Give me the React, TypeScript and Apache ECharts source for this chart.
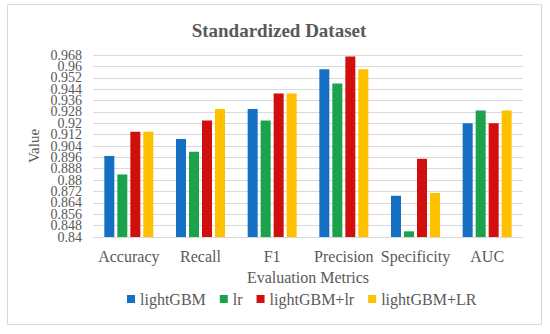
import React, { useEffect, useRef } from "react";
import * as echarts from "echarts";

const categories = ["Accuracy", "Recall", "F1", "Precision", "Specificity", "AUC"];
const seriesNames = ["lightGBM", "lr", "lightGBM+lr", "lightGBM+LR"];
const lightGBM = [0.897, 0.909, 0.930, 0.958, 0.869, 0.920];
const lr = [0.884, 0.900, 0.922, 0.948, 0.844, 0.929];
const lightGBMlr = [0.914, 0.922, 0.941, 0.967, 0.895, 0.920];
const lightGBMLR = [0.914, 0.930, 0.941, 0.958, 0.871, 0.929];
const colors = ["#1570c4", "#1ca24c", "#d20f0f", "#ffc000"];

const Y_MIN = 0.84;
const Y_MAX = 0.968;
const Y_STEP = 0.008;

const FONT = "Liberation Serif";

export default function App() {
  const ref = useRef<HTMLDivElement>(null);
  useEffect(() => {
    const chart = echarts.init(ref.current!, null, { renderer: "svg" });
    const data = [lightGBM, lr, lightGBMlr, lightGBMLR];
    const gTop = 55;
    const gBottom = 97;
    const plotH = 334 - gTop - gBottom;
    const pxPerStep = (plotH * Y_STEP) / (Y_MAX - Y_MIN);
    const fmt = (v: number) => String(parseFloat(v.toFixed(3)));
    const labelStyle = { fontFamily: FONT, fontSize: 14, color: "#595959", margin: 11 };
    const hiddenX = { type: "value", show: false, min: 0, max: 1 };
    chart.setOption({
      animation: false,
      backgroundColor: "#ffffff",
      textStyle: { fontFamily: FONT },
      title: {
        text: "Standardized Dataset",
        left: 274,
        textAlign: "center",
        top: 16,
        textStyle: { fontFamily: FONT, fontSize: 19, fontWeight: "bold", color: "#595959" },
      },
      graphic: [
        {
          type: "rect",
          shape: { x: 7.5, y: 4.5, width: 534, height: 320 },
          style: { fill: "none", stroke: "#d9d9d9", lineWidth: 1 },
          silent: true,
        },
      ],
      legend: {
        bottom: 22,
        left: 122,
        itemWidth: 8,
        itemHeight: 8,
        itemGap: 14,
        icon: "rect",
        formatter: (name: string) => "{a|" + name + "}",
        textStyle: {
          fontFamily: FONT,
          fontSize: 16,
          color: "#595959",
          rich: { a: { fontFamily: FONT, fontSize: 16, color: "#595959" } },
        },
        data: seriesNames,
      },
      grid: [
        { left: 93, right: 27, top: gTop, bottom: gBottom },
        { left: 93, right: 27, top: gTop, bottom: gBottom },
        { left: 93, right: 27, top: gTop - pxPerStep, bottom: gBottom - pxPerStep },
      ],
      xAxis: [
        {
          type: "category",
          gridIndex: 0,
          data: categories,
          name: "Evaluation Metrics",
          nameLocation: "middle",
          nameGap: 32,
          nameTextStyle: { fontFamily: FONT, fontSize: 16, color: "#595959" },
          axisLine: { show: false },
          axisTick: { show: false },
          axisLabel: { fontFamily: FONT, fontSize: 16, color: "#595959", margin: 11, interval: 0 },
        },
        { ...hiddenX, gridIndex: 1 },
        { ...hiddenX, gridIndex: 2 },
      ],
      yAxis: [
        {
          type: "value",
          gridIndex: 0,
          min: Y_MIN,
          max: Y_MAX,
          interval: Y_STEP,
          name: "Value",
          nameLocation: "middle",
          nameGap: 52,
          nameTextStyle: { fontFamily: FONT, fontSize: 15, color: "#595959" },
          axisLine: { show: false },
          axisTick: { show: false },
          splitLine: { lineStyle: { color: "#d9d9d9", width: 1 } },
          axisLabel: { show: false },
        },
        {
          type: "value",
          gridIndex: 1,
          min: Y_MIN,
          max: Y_MAX,
          interval: Y_STEP * 2,
          axisLine: { show: false },
          axisTick: { show: false },
          splitLine: { show: false },
          axisLabel: { ...labelStyle, showMinLabel: true, showMaxLabel: true, formatter: fmt },
        },
        {
          type: "value",
          gridIndex: 2,
          min: Y_MIN - Y_STEP,
          max: Y_MAX + Y_STEP,
          interval: Y_STEP * 2,
          axisLine: { show: false },
          axisTick: { show: false },
          splitLine: { show: false },
          axisLabel: {
            ...labelStyle,
            showMinLabel: false,
            showMaxLabel: false,
            formatter: (v: number) =>
              v < Y_MIN - 1e-9 || v > Y_MAX + 1e-9 ? "" : fmt(v),
          },
        },
      ],
      series: seriesNames.map((name, i) => ({
        name,
        type: "bar",
        xAxisIndex: 0,
        yAxisIndex: 0,
        data: data[i],
        barWidth: 10,
        barGap: "30%",
        itemStyle: { color: colors[i] },
      })),
    });
    return () => chart.dispose();
  }, []);
  return (
    <div
      ref={ref}
      style={{ position: "absolute", left: 0, top: 0, width: 550, height: 334 }}
    />
  );
}
